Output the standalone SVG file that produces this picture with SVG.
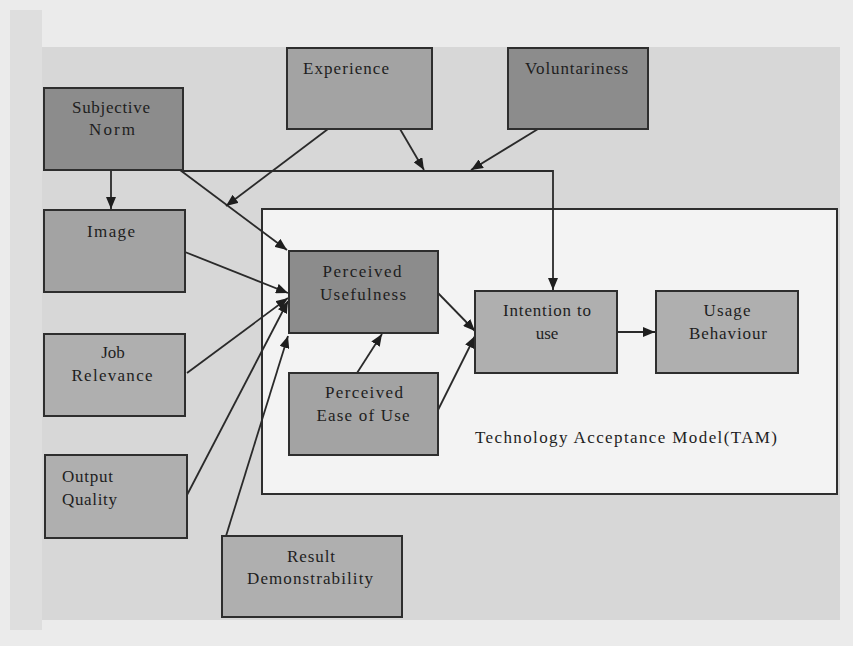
<svg xmlns="http://www.w3.org/2000/svg" width="853" height="646" viewBox="0 0 853 646">
  <style>
    .box { stroke: #2e2e2e; stroke-width: 2; }
    .dark { fill: #8c8c8c; }
    .mid { fill: #a3a3a3; }
    .light { fill: #afafaf; }
    .lbl { font-family: "Liberation Serif", "Times New Roman", serif; font-size: 17px; fill: #1e1e1e; }
    .c { text-anchor: middle; }
    .wire { fill: none; stroke: #2a2a2a; stroke-width: 1.8; }
  </style>
  <defs>
    <marker id="arrow" viewBox="0 0 12 10" refX="12" refY="5" markerWidth="12" markerHeight="10" markerUnits="userSpaceOnUse" orient="auto">
      <path d="M0,0 L12,5 L0,10 Z" fill="#1e1e1e"/>
    </marker>
  </defs>

  <!-- page and panel background -->
  <rect x="0" y="0" width="853" height="646" fill="#ebebeb"/>
  <rect x="10" y="10" width="32" height="620" fill="#dedede"/>
  <rect x="42" y="47" width="798" height="573" fill="#d7d7d7"/>

  <!-- TAM frame -->
  <g id="tam-frame">
    <rect x="262" y="209" width="575" height="285" fill="#f3f3f3" class="box"/>
    <text class="lbl" x="475" y="443" textLength="302" lengthAdjust="spacing">Technology Acceptance Model(TAM)</text>
  </g>

  <!-- connectors -->
  <g id="connectors">
    <path class="wire" d="M183,171 H553 V290" marker-end="url(#arrow)"/>
    <line class="wire" x1="111" y1="170" x2="111" y2="209" marker-end="url(#arrow)"/>
    <line class="wire" x1="180" y1="170" x2="287" y2="250" marker-end="url(#arrow)"/>
    <line class="wire" x1="328" y1="129" x2="226" y2="206" marker-end="url(#arrow)"/>
    <line class="wire" x1="400" y1="129" x2="424" y2="170" marker-end="url(#arrow)"/>
    <line class="wire" x1="538" y1="129" x2="471" y2="170" marker-end="url(#arrow)"/>
    <line class="wire" x1="185" y1="252" x2="288" y2="293" marker-end="url(#arrow)"/>
    <line class="wire" x1="187" y1="373" x2="288" y2="298" marker-end="url(#arrow)"/>
    <line class="wire" x1="187" y1="495" x2="288" y2="301" marker-end="url(#arrow)"/>
    <line class="wire" x1="226" y1="536" x2="288" y2="336" marker-end="url(#arrow)"/>
    <line class="wire" x1="357" y1="373" x2="382" y2="334" marker-end="url(#arrow)"/>
    <line class="wire" x1="437" y1="292" x2="475" y2="331" marker-end="url(#arrow)"/>
    <line class="wire" x1="438" y1="410" x2="475" y2="336" marker-end="url(#arrow)"/>
    <line class="wire" x1="617" y1="332" x2="655" y2="332" marker-end="url(#arrow)"/>
  </g>

  <!-- external factors -->
  <g id="subjective-norm">
    <rect x="44" y="88" width="139" height="82" class="box dark"/>
    <text class="lbl c" x="111" y="113" textLength="78" lengthAdjust="spacing">Subjective</text>
    <text class="lbl c" x="112" y="135" textLength="46" lengthAdjust="spacing">Norm</text>
  </g>
  <g id="experience">
    <rect x="287" y="48" width="145" height="81" class="box mid"/>
    <text class="lbl" x="303" y="74" textLength="86" lengthAdjust="spacing">Experience</text>
  </g>
  <g id="voluntariness">
    <rect x="508" y="48" width="140" height="81" class="box dark"/>
    <text class="lbl" x="525" y="74" textLength="103" lengthAdjust="spacing">Voluntariness</text>
  </g>
  <g id="image">
    <rect x="44" y="210" width="141" height="82" class="box mid"/>
    <text class="lbl c" x="111" y="237" textLength="48" lengthAdjust="spacing">Image</text>
  </g>
  <g id="job-relevance">
    <rect x="44" y="334" width="141" height="82" class="box light"/>
    <text class="lbl c" x="113" y="358">Job</text>
    <text class="lbl c" x="112" y="381" textLength="81" lengthAdjust="spacing">Relevance</text>
  </g>
  <g id="output-quality">
    <rect x="45" y="455" width="142" height="83" class="box light"/>
    <text class="lbl" x="62" y="482" textLength="51" lengthAdjust="spacing">Output</text>
    <text class="lbl" x="62" y="505" textLength="55" lengthAdjust="spacing">Quality</text>
  </g>
  <g id="result-demonstrability">
    <rect x="222" y="536" width="180" height="81" class="box light"/>
    <text class="lbl c" x="311" y="562" textLength="48" lengthAdjust="spacing">Result</text>
    <text class="lbl c" x="310" y="584" textLength="126" lengthAdjust="spacing">Demonstrability</text>
  </g>

  <!-- TAM constructs -->
  <g id="perceived-usefulness">
    <rect x="289" y="251" width="149" height="82" class="box dark"/>
    <text class="lbl c" x="362" y="277" textLength="79" lengthAdjust="spacing">Perceived</text>
    <text class="lbl c" x="363" y="300" textLength="86" lengthAdjust="spacing">Usefulness</text>
  </g>
  <g id="perceived-ease-of-use">
    <rect x="289" y="373" width="149" height="82" class="box mid"/>
    <text class="lbl c" x="364" y="398" textLength="78" lengthAdjust="spacing">Perceived</text>
    <text class="lbl c" x="363" y="421" textLength="93" lengthAdjust="spacing">Ease of Use</text>
  </g>
  <g id="intention-to-use">
    <rect x="475" y="291" width="142" height="82" class="box light"/>
    <text class="lbl c" x="547" y="316" textLength="88" lengthAdjust="spacing">Intention to</text>
    <text class="lbl c" x="547" y="339">use</text>
  </g>
  <g id="usage-behaviour">
    <rect x="656" y="291" width="142" height="82" class="box light"/>
    <text class="lbl c" x="727" y="316" textLength="47" lengthAdjust="spacing">Usage</text>
    <text class="lbl c" x="728" y="339" textLength="78" lengthAdjust="spacing">Behaviour</text>
  </g>
</svg>
